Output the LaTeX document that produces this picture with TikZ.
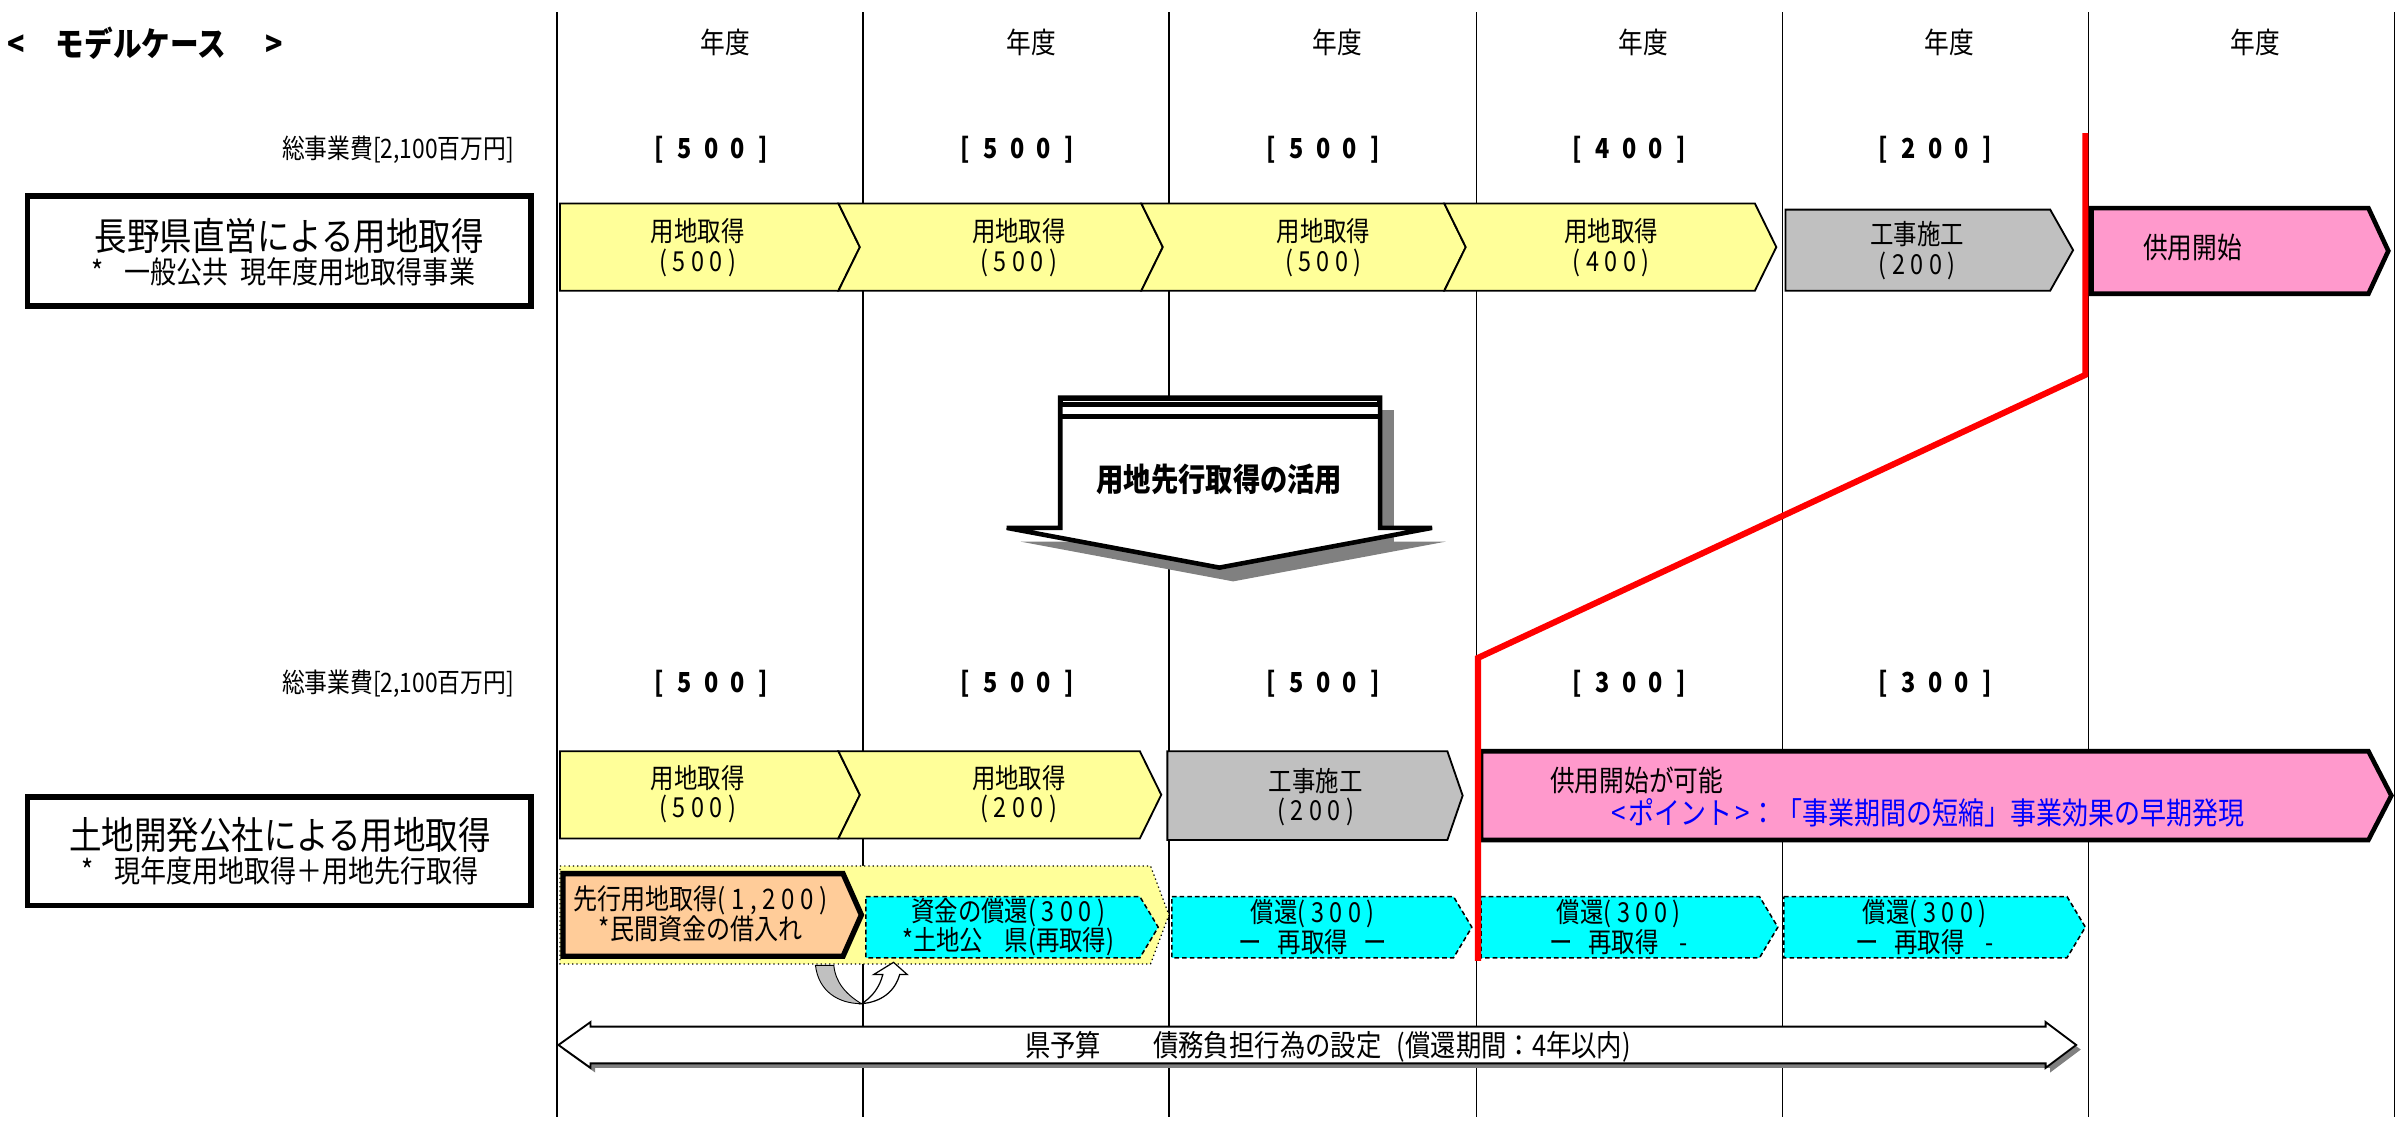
\documentclass[tikz,border=0pt]{standalone}
\usepackage{fontspec}
\setmainfont{Noto Sans CJK JP}[FakeStretch=0.85]
\newfontfamily\spc{Noto Sans CJK JP}[FakeStretch=0.85,LetterSpace=20]
\newcommand\fs[2]{\fontsize{#1}{#2}\selectfont}
\newcommand\mypent[6]{\path[#1] (#2,#5) -- (#3,#5) -- (#4,{(#5+#6)/2}) -- (#3,#6) -- (#2,#6) -- cycle;}
\newcommand\mynpent[7]{\path[#1] (#2,#5) -- (#3,#5) -- (#4,{(#5+#6)/2}) -- (#3,#6) -- (#2,#6) -- (#7,{(#5+#6)/2}) -- cycle;}
\newcommand\totv[3]{[\hspace{9pt}#1\hspace{8pt}#2\hspace{8pt}#3\hspace{9pt}]}
\definecolor{cyel}{HTML}{FFFF99}
\definecolor{cgry}{HTML}{C0C0C0}
\definecolor{cpnk}{HTML}{FF99CC}
\definecolor{corg}{HTML}{FFCC99}
\definecolor{ccyn}{HTML}{00FFFF}
\definecolor{cshd}{HTML}{808080}
\begin{document}
\begin{tikzpicture}[x=1pt,y=-1pt,
  txt/.style={inner sep=0pt, align=center, font=\fs{18}{19.5}},
  hdr/.style={inner sep=0pt, font=\fs{19}{20}},
  tot/.style={inner sep=0pt, font=\fs{18}{20}\bfseries},
  lbl/.style={inner sep=0pt, anchor=east, font=\fs{17.5}{19}},
  yel/.style={draw=black, line width=1.2pt, fill=cyel},
  gry/.style={draw=black, line width=1.2pt, fill=cgry},
  pnk/.style={draw=black, line width=3pt, fill=cpnk},
  cyn/.style={draw=black, line width=1pt, dash pattern=on 3pt off 2pt, fill=ccyn},
  colline/.style={draw=black, line width=0.8pt},
  bigbox/.style={draw=black, line width=3.5pt, fill=white}]
\useasboundingbox (0,0) rectangle (1568,735);
% column lines
\foreach \x in {364,564,764,965,1165,1365,1565} \draw[colline] (\x,8) -- (\x,730);
% title
\node[inner sep=0pt, anchor=west, font=\fs{22}{23}\bfseries] (title) at (5,28) {<\hspace{20pt}モデルケース\hspace{26pt}>};
% headers
\foreach \x [count=\i] in {474,674,874,1074,1274,1474} \node[hdr] (yr\i) at (\x,28) {年度};
\node[lbl] (lbA) at (336,98) {総事業費[2,100百万円]};
\node[lbl] (lbB) at (336,447) {総事業費[2,100百万円]};
\node[tot] (ta1) at (465,98) {\totv500};
\node[tot] (ta2) at (665,98) {\totv500};
\node[tot] (ta3) at (865,98) {\totv500};
\node[tot] (ta4) at (1065,98) {\totv400};
\node[tot] (ta5) at (1265,98) {\totv200};
\node[tot] (tb1) at (465,447) {\totv500};
\node[tot] (tb2) at (665,447) {\totv500};
\node[tot] (tb3) at (865,447) {\totv500};
\node[tot] (tb4) at (1065,447) {\totv300};
\node[tot] (tb5) at (1265,447) {\totv300};
% left boxes
\draw[bigbox] (18,128) rectangle (347,200);
\node[inner sep=0pt, font=\fs{25}{26}] (boxA1) at (189,154) {長野県直営による用地取得};
\node[inner sep=0pt, font=\fs{20}{21}] (boxA2) at (185,178) {*\hspace{14pt}一般公共\hspace{8pt}現年度用地取得事業};
\draw[bigbox] (18,521) rectangle (347,592);
\node[inner sep=0pt, font=\fs{25}{26}] (boxB1) at (183,546) {土地開発公社による用地取得};
\node[inner sep=0pt, font=\fs{20}{21}] (boxB2) at (183,569) {*\hspace{14pt}現年度用地取得＋用地先行取得};
% top row
\mypent{yel}{366}{548}{562}{133}{190}
\mynpent{yel}{548}{746}{760}{133}{190}{562}
\mynpent{yel}{746}{944}{958}{133}{190}{760}
\mynpent{yel}{944}{1147}{1161}{133}{190}{958}
\mypent{gry}{1167}{1340}{1355}{137}{190}
\mypent{pnk}{1367}{1548}{1561}{136}{192}
\node[txt] (a1) at (456,162) {用地取得\\{\spc(500)}};
\node[txt] (a2) at (666,162) {用地取得\\{\spc(500)}};
\node[txt] (a3) at (865,162) {用地取得\\{\spc(500)}};
\node[txt] (a4) at (1053,162) {用地取得\\{\spc(400)}};
\node[txt] (a5) at (1253,164) {工事施工\\{\spc(200)}};
\node[inner sep=0pt, font=\fs{19}{20}] (a6) at (1433,162) {供用開始};
% big down arrow
\fill[cshd] (702,268) -- (911,268) -- (911,354) -- (945,354) -- (806,380) -- (667,354) -- (702,354) -- cycle;
\draw[fill=white, line width=3pt, line join=miter] (693,260) -- (902,260) -- (902,345) -- (936,345) -- (797,371) -- (658,345) -- (693,345) -- cycle;
\fill[black] (692,259) rectangle (903,266);
\fill[black] (692,270.5) rectangle (903,274);
\draw[white, line width=0.4pt] (695,262.5) -- (900,262.5);
\node[inner sep=0pt, font=\fs{21}{22}\bfseries] (adv) at (797,313) {用地先行取得の活用};
% lower row
\mypent{yel}{366}{548}{562}{491}{548}
\mynpent{yel}{548}{745}{759}{491}{548}{562}
\mypent{gry}{763}{946}{956}{491}{549}
\mypent{pnk}{968}{1548}{1563}{491}{549}
\node[txt] (b1) at (456,519) {用地取得\\{\spc(500)}};
\node[txt] (b2) at (666,519) {用地取得\\{\spc(200)}};
\node[txt] (b3) at (860,521) {工事施工\\{\spc(200)}};
\node[inner sep=0pt, anchor=west, font=\fs{19}{20}] (b4) at (1013,510) {供用開始が可能};
\node[inner sep=0pt, anchor=west, font=\fs{20}{21}, text=blue] (b5) at (1053,531) {<\hspace{2pt}ポイント\hspace{2pt}>：「事業期間の短縮」事業効果の早期発現};
% dotted yellow band
\path[fill=cyel, draw=black, line width=0.8pt, dotted] (366,566) -- (752,566) -- (764,598) -- (752,630) -- (366,630) -- cycle;
\path[draw=black, line width=3.5pt, fill=corg, line join=miter] (368,571) -- (551,571) -- (563,598) -- (551,625) -- (368,625) -- cycle;
\node[txt, font=\fs{18.5}{19.5}] (c1) at (458,597) {先行用地取得{\spc(1,200)}\\*民間資金の借入れ};
\mypent{cyn}{566}{745}{757}{586}{626}
\mypent{cyn}{766}{950}{962}{586}{626}
\mypent{cyn}{968}{1150}{1162}{586}{626}
\mypent{cyn}{1166}{1351}{1363}{586}{626}
\node[txt] (c2) at (659,606) {資金の償還{\spc(300)}\\*土地公\hspace{14pt}県(再取得)};
\node[txt] (c3) at (858,606) {償還{\spc(300)}\\ー\hspace{10pt}再取得\hspace{10pt}ー};
\node[txt] (c4) at (1058,606) {償還{\spc(300)}\\ー\hspace{10pt}再取得\hspace{14pt}-};
\node[txt] (c5) at (1258,606) {償還{\spc(300)}\\ー\hspace{10pt}再取得\hspace{14pt}-};
% U-turn arrow
\draw[fill=cgry, line width=0.6pt] (533,631) .. controls (535,648) and (548,656) .. (563,656) .. controls (553,650) and (546,642) .. (545,631) -- cycle;
\draw[fill=white, line width=0.8pt, line join=miter] (563,656) .. controls (576,655) and (585,648) .. (588,637) -- (593,637) -- (584,629) -- (571,637) -- (577,637) .. controls (575,645) and (570,652) .. (563,656) -- cycle;
% red line
\draw[red, line width=4pt] (1363,87) -- (1363,245) -- (966,430) -- (966,628);
% bottom double arrow
\fill[cshd] (368,686) -- (389,671) -- (389,674) -- (1340,674) -- (1340,671) -- (1360,686) -- (1340,701) -- (1340,698) -- (389,698) -- (389,701) -- cycle;
\draw[fill=white, line width=1.2pt] (365,683) -- (386,668) -- (386,671) -- (1337,671) -- (1337,668) -- (1357,683) -- (1337,698) -- (1337,695) -- (386,695) -- (386,698) -- cycle;
\node[inner sep=0pt, font=\fs{19.5}{20}] (bud) at (868,684) {県予算\hspace{34pt}債務負担行為の設定\hspace{10pt}(償還期間：4年以内)};
\end{tikzpicture}
\end{document}
